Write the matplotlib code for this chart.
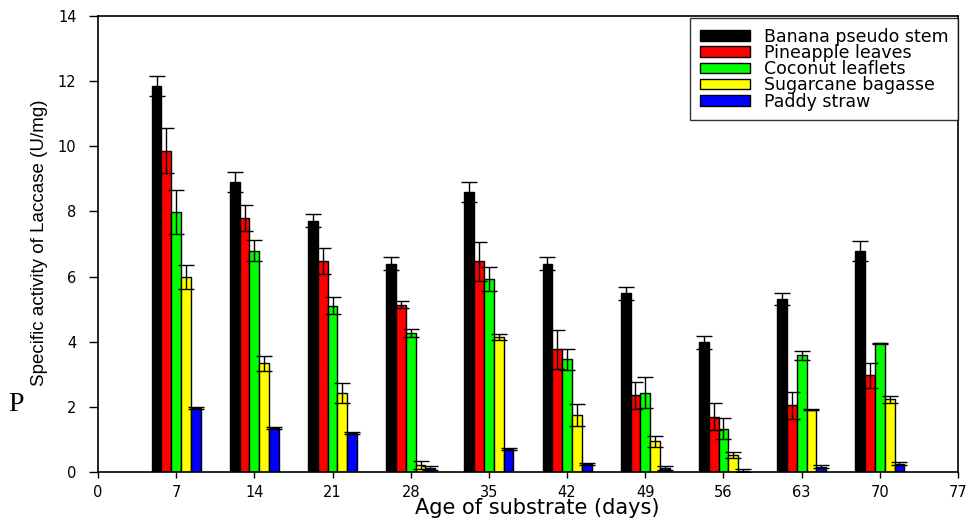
import numpy as np
import matplotlib.pyplot as plt

# age of substrate (days)
days = [7, 14, 21, 28, 35, 42, 49, 56, 63, 70]

substrates = ["Banana pseudo stem", "Pineapple leaves", "Coconut leaflets",
              "Sugarcane bagasse", "Paddy straw"]
colors = ["#000000", "#ff0000", "#00ff00", "#ffff00", "#0000ff"]

# specific activity of laccase (U/mg)
banana = [11.85, 8.91, 7.72, 6.40, 8.59, 6.39, 5.49, 3.99, 5.31, 6.79]
pineapple = [9.87, 7.79, 6.49, 5.14, 6.47, 3.77, 2.35, 1.70, 2.05, 2.97]
coconut = [7.99, 6.80, 5.11, 4.28, 5.92, 3.46, 2.44, 1.33, 3.58, 3.95]
sugarcane = [5.98, 3.34, 2.42, 0.21, 4.14, 1.76, 0.94, 0.51, 1.91, 2.23]
paddy = [1.96, 1.35, 1.19, 0.12, 0.71, 0.25, 0.12, 0.04, 0.16, 0.26]

# standard errors
banana_err = [0.30, 0.30, 0.20, 0.20, 0.30, 0.20, 0.20, 0.20, 0.19, 0.30]
pineapple_err = [0.69, 0.40, 0.40, 0.11, 0.60, 0.60, 0.41, 0.41, 0.41, 0.39]
coconut_err = [0.67, 0.33, 0.25, 0.12, 0.37, 0.33, 0.49, 0.32, 0.13, 0.02]
sugarcane_err = [0.37, 0.23, 0.30, 0.12, 0.10, 0.34, 0.16, 0.09, 0.02, 0.10]
paddy_err = [0.04, 0.03, 0.03, 0.05, 0.03, 0.02, 0.05, 0.04, 0.04, 0.04]

valores = [banana, pineapple, coconut, sugarcane, paddy]
erros = [banana_err, pineapple_err, coconut_err, sugarcane_err, paddy_err]

fig = plt.figure(figsize=(9.73, 5.23), dpi=100)
ax = fig.add_axes([0.1007, 0.0975, 0.8839, 0.8719])

x = np.array(days, dtype=float)
largura = 0.88
for i in range(5):
    pos = x + (i - 2) * largura
    ax.bar(pos, valores[i], largura, color=colors[i], edgecolor='black',
           linewidth=1, label=substrates[i], zorder=2)
    ax.errorbar(pos, valores[i], yerr=erros[i], fmt='none', ecolor='black',
                elinewidth=1, capsize=6, capthick=1, zorder=3)

ax.set_xlim(0, 77)
ax.set_ylim(0, 14)
ax.set_xticks(np.arange(0, 78, 7))
ax.set_yticks(np.arange(0, 15, 2))
ax.tick_params(axis='x', direction='out', length=4, width=1, labelsize=10.5, pad=5)
ax.tick_params(axis='y', direction='out', length=6.5, width=1, labelsize=10.5, pad=9)
for s in ax.spines.values():
    s.set_linewidth(1.2)

ax.set_xlabel("Age of substrate (days)", fontsize=15)
ax.xaxis.set_label_coords(0.511, -0.057)
ax.set_ylabel("Specific activity of Laccase (U/mg)", fontsize=13.5,
              family=['Liberation Sans', 'DejaVu Sans'])
ax.yaxis.set_label_coords(-0.058, 0.502)

leg = ax.legend(loc='upper right', bbox_to_anchor=(1.0, 0.9956), borderaxespad=0,
                fontsize=12.5, frameon=True, fancybox=False, handlelength=2.9,
                handleheight=0.55, handletextpad=0.8, labelspacing=-0.1,
                borderpad=0.55)
leg.get_frame().set_edgecolor('black')
leg.get_frame().set_linewidth(1)

fig.text(0.008, 0.227, "P", fontsize=20, family='Liberation Serif', va='center')

plt.savefig('out.png', dpi=100)
